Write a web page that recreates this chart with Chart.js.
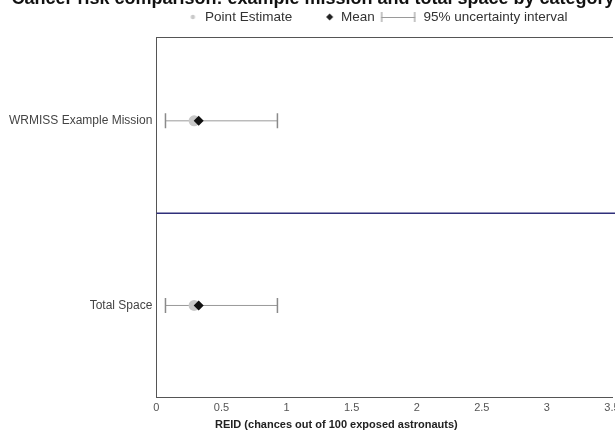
<!DOCTYPE html>
<html>
<head>
<meta charset="utf-8">
<script src="https://cdn.jsdelivr.net/npm/chart.js@4.4.1/dist/chart.umd.min.js"></script>
<style>
  html, body { margin: 0; padding: 0; background: #fff; }
  #frame { position: relative; width: 615px; height: 438px; overflow: hidden; background: #fff; }
  #chart { position: absolute; left: 0; top: -3px; }
</style>
</head>
<body>
<div id="frame"><canvas id="chart" width="621" height="441"></canvas></div>
<script>
// Categories (top to bottom) and their positions on the vertical axis
const categories = ['WRMISS Example Mission', 'Total Space'];
const categoryPos = [2, 1];
const yRange = [0.5, 2.45];

// REID values, chances out of 100 exposed astronauts
const pointEstimate = [0.29, 0.29];
const meanValue = [0.325, 0.325];
const intervalLow = [0.07, 0.07];
const intervalHigh = [0.93, 0.93];

// Horizontal axis ticks
const xTicks = [0, 0.5, 1, 1.5, 2, 2.5, 3, 3.5];
// Divider between the two categories
const dividerPos = [1.5];

const FONT = '"Liberation Sans", Arial, sans-serif';
const INTERVAL_GREY = '#9a9a9a';
const CAP_GREY = '#8a8a8a';
const POINT_GREY = '#c9c9c9';

// Legend glyphs on offscreen canvases; each symbol sits at its own
// offset from the centre of a 32px legend box
function glyph(w, h, draw) {
  const c = document.createElement('canvas');
  c.width = w; c.height = h;
  draw(c.getContext('2d'), w, h);
  return c;
}
const LEG_BOX = 32;
const GLYPH_W = 72;
const legendDot = glyph(GLYPH_W, 12, (g, w, h) => {
  g.fillStyle = POINT_GREY;
  g.beginPath(); g.arc(w / 2 + 10.5, h / 2, 2.2, 0, Math.PI * 2); g.fill();
});
const legendDiamond = glyph(GLYPH_W, 12, (g, w, h) => {
  const cx = w / 2 + 11.5, cy = h / 2;
  g.fillStyle = '#222';
  g.beginPath();
  g.moveTo(cx, cy - 3.5); g.lineTo(cx + 3.5, cy);
  g.lineTo(cx, cy + 3.5); g.lineTo(cx - 3.5, cy);
  g.closePath(); g.fill();
});
const legendInterval = glyph(GLYPH_W, 12, (g, w, h) => {
  const cx = w / 2 - 2.5, half = 17;
  g.strokeStyle = CAP_GREY; g.lineWidth = 1;
  g.beginPath();
  g.moveTo(cx - half + 0.5, 1); g.lineTo(cx - half + 0.5, h - 1);
  g.moveTo(cx + half - 0.5, 1); g.lineTo(cx + half - 0.5, h - 1);
  g.stroke();
  g.strokeStyle = INTERVAL_GREY;
  g.beginPath(); g.moveTo(cx - half, h / 2 + 0.5); g.lineTo(cx + half, h / 2 + 0.5); g.stroke();
});

const toPoints = (xs) => xs.map((x, i) => ({ x: x, y: categoryPos[i] }));

const datasets = [
  {
    label: 'Mean',
    type: 'scatter',
    data: toPoints(meanValue),
    pointStyle: 'rectRot',
    pointRadius: 5,
    backgroundColor: '#111',
    borderColor: '#111',
    borderWidth: 0
  },
  {
    label: 'Point Estimate',
    type: 'scatter',
    data: toPoints(pointEstimate),
    pointStyle: 'circle',
    pointRadius: 5.5,
    backgroundColor: POINT_GREY,
    borderColor: POINT_GREY,
    borderWidth: 0
  }
];

// One whisker per category, with vertical caps at both ends
categories.forEach((name, i) => {
  datasets.push({
    label: '95% uncertainty interval',
    type: 'line',
    data: [{ x: intervalLow[i], y: categoryPos[i] }, { x: intervalHigh[i], y: categoryPos[i] }],
    borderColor: INTERVAL_GREY,
    borderWidth: 1,
    pointStyle: 'line',
    rotation: 90,
    pointRadius: 7.5,
    pointBorderColor: CAP_GREY,
    pointBorderWidth: 1.5,
    fill: false
  });
});

datasets.push({
  label: 'divider',
  type: 'line',
  data: [{ x: 0, y: dividerPos[0] }, { x: 3.6, y: dividerPos[0] }],
  borderColor: '#2f2f7a',
  borderWidth: 1.5,
  pointRadius: 0,
  fill: false,
  clip: { left: 0, top: 0, right: 4, bottom: 0 }
});

// Axis title, set a little left of the plot centre
const AXIS_TITLE = 'REID (chances out of 100 exposed astronauts)';
const axisTitlePlugin = {
  id: 'axisTitle',
  afterDraw(chart) {
    const { ctx, chartArea } = chart;
    ctx.save();
    ctx.font = 'bold 11px ' + FONT;
    ctx.fillStyle = '#222';
    ctx.textAlign = 'center';
    ctx.textBaseline = 'middle';
    ctx.fillText(AXIS_TITLE, chartArea.left + 180, chartArea.bottom + 27);
    ctx.restore();
  }
};

new Chart(document.getElementById('chart'), {
  type: 'scatter',
  data: { datasets },
  plugins: [axisTitlePlugin],
  options: {
    responsive: false,
    animation: false,
    layout: { padding: { left: 5, right: 0, top: 0, bottom: 23 } },
    plugins: {
      tooltip: { enabled: false },
      title: {
        display: true,
        text: 'Cancer risk comparison: example mission and total space by category',
        font: { family: FONT, size: 18, weight: 'bold', lineHeight: 0.18 },
        color: '#111',
        padding: 0
      },
      legend: {
        display: true,
        position: 'top',
        fullSize: false,
        align: 'start',
        labels: {
          font: { family: FONT, size: 13.5 },
          color: '#333',
          usePointStyle: true,
          pointStyleWidth: LEG_BOX,
          boxHeight: 12,
          padding: 10,
          generateLabels() {
            return [
              { text: 'Point Estimate', pointStyle: legendDot, fontColor: '#333', hidden: false, lineWidth: 0, datasetIndex: 1 },
              { text: 'Mean', pointStyle: legendDiamond, fontColor: '#333', hidden: false, lineWidth: 0, datasetIndex: 0 },
              { text: '95% uncertainty interval', pointStyle: legendInterval, fontColor: '#333', hidden: false, lineWidth: 0, datasetIndex: 2 }
            ];
          }
        },
        onClick: null
      }
    },
    scales: {
      x: {
        type: 'linear',
        min: 0,
        max: 3.5,
        afterBuildTicks(axis) { axis.ticks = xTicks.map(v => ({ value: v })); },
        grid: { display: false, drawTicks: true, tickLength: 4, tickColor: '#555' },
        border: { display: true, color: '#555', width: 1 },
        ticks: {
          font: { family: FONT, size: 11 },
          color: '#555',
          padding: 0,
          maxRotation: 0,
          autoSkip: false,
          callback(value) { return String(value); }
        }
      },
      x2: {
        type: 'linear',
        position: 'top',
        min: 0,
        max: 3.5,
        grid: { display: false, drawTicks: true, tickLength: 4, tickColor: 'rgba(0,0,0,0)' },
        border: { display: true, color: '#555', width: 1 },
        ticks: { display: false }
      },
      y: {
        type: 'linear',
        min: yRange[0],
        max: yRange[1],
        // the range ends carry no labels, only the categories are named
        afterBuildTicks(axis) {
          axis.ticks = [yRange[0], ...categoryPos.slice().reverse(), yRange[1]].map(v => ({ value: v }));
        },
        afterFit(axis) {
          axis.paddingTop = 0;
          axis.paddingBottom = 0;
        },
        grid: { display: false, drawTicks: false },
        border: { display: true, color: '#555', width: 1 },
        ticks: {
          font: { family: FONT, size: 12 },
          color: '#444',
          padding: 4,
          autoSkip: false,
          callback(value) {
            const i = categoryPos.indexOf(value);
            return i >= 0 ? categories[i] : null;
          }
        }
      }
    }
  }
});
</script>
</body>
</html>
